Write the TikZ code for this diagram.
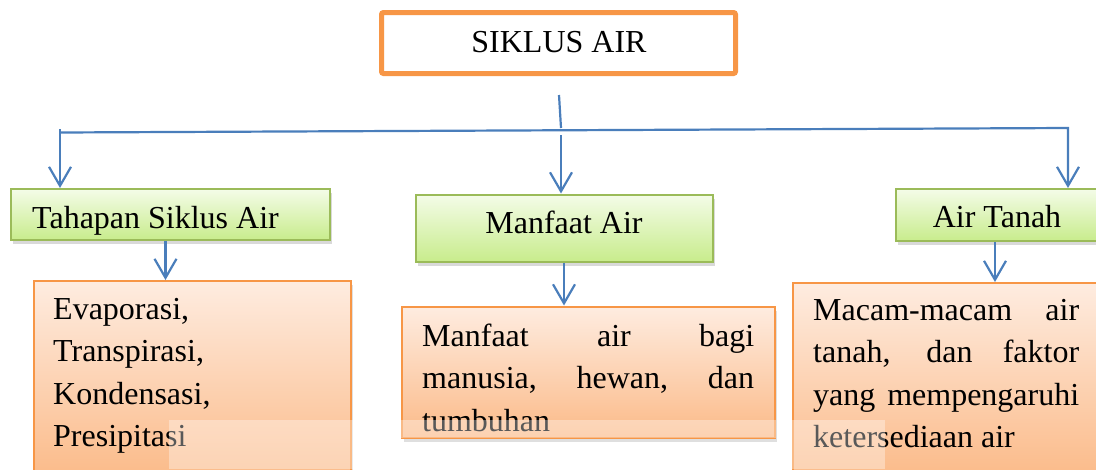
\documentclass[tikz,border=0pt]{standalone}
\usepackage{fontspec}
\setmainfont{Liberation Serif}
\usetikzlibrary{arrows.meta,shadows,calc}
\definecolor{orng}{RGB}{247,150,70}
\definecolor{arrblue}{RGB}{74,126,187}
\definecolor{grnline}{RGB}{155,187,89}
\definecolor{grntop}{RGB}{244,252,232}
\definecolor{grnbot}{RGB}{200,236,140}
\definecolor{ortop}{RGB}{254,236,224}
\definecolor{orbot}{RGB}{251,186,136}
\newcommand\bigfnt{\fontsize{32}{42.6}\selectfont\hyphenpenalty=10000\relax\exhyphenpenalty=10000\relax}
\begin{document}
\begin{tikzpicture}[x=1pt,y=-1pt,
  bigtext/.style={font=\bigfnt, inner sep=0pt},
  topbox/.style={draw=orng, line width=5pt, rounded corners=2pt, fill=white, minimum width=354pt, minimum height=61pt, inner sep=0pt},
  greenbox/.style={draw=grnline, line width=2pt, top color=grntop, bottom color=grnbot, drop shadow={opacity=0.3, shadow xshift=2pt, shadow yshift=-4pt}, inner sep=0pt},
  orbox/.style={draw=orng, line width=2pt, top color=ortop, bottom color=orbot, drop shadow={opacity=0.25, shadow xshift=2pt, shadow yshift=-4pt}, inner sep=0pt},
  conn/.style={draw=arrblue, line width=2.2pt},
  arr/.style={conn, -{Straight Barb[length=19pt,width=22pt]}},
  overlay/.style={fill=white, fill opacity=0.35}
]
\useasboundingbox (0,0) rectangle (1096,469);

% top box
\node[topbox] (top) at (558.5,43) {};
\node[bigtext, anchor=base] (toplbl) at (559,52) {SIKLUS AIR};

% green boxes
\node[greenbox, minimum width=319pt, minimum height=51pt] (g1) at (170.5,214.5) {};
\node[greenbox, minimum width=297pt, minimum height=67pt] (g2) at (564,228) {};
\node[greenbox, minimum width=201pt, minimum height=52pt] (g3) at (996,215) {};
\node[bigtext, anchor=base west] (g1lbl) at (32,228) {Tahapan Siklus Air};
\node[bigtext, anchor=base] (g2lbl) at (564,233) {Manfaat Air};
\node[bigtext, anchor=base] (g3lbl) at (997,227) {Air Tanah};

% orange boxes
\node[orbox, minimum width=317pt, minimum height=199pt] (o1) at (192,380.5) {};
\node[orbox, minimum width=373pt, minimum height=131pt] (o2) at (588,372) {};
\node[orbox, minimum width=309pt, minimum height=197pt] (o3) at (947.5,381.5) {};

\node[bigtext, anchor=base west, text width=280pt, align=left] (o1lbl) at (53,319)
  {Evaporasi,\\Transpirasi,\\Kondensasi,\\Presipitasi};
\node[bigtext, anchor=base west, text width=332pt, align=justify] (o2lbl) at (422,346)
  {Manfaat air bagi\linebreak manusia, hewan, dan\linebreak tumbuhan};
\node[bigtext, anchor=base west, text width=266pt, align=justify] (o3lbl) at (813,320)
  {Macam-macam air\linebreak tanah, dan faktor\linebreak yang mempengaruhi\linebreak ketersediaan air};

% connectors
\coordinate (m1) at (559,95);
\coordinate (m2) at (561,128);
\coordinate (m3) at (561,135);
\coordinate (hl) at (60,132.5);
\coordinate (hlt) at (60,129);
\coordinate (hr) at (1068,128);
\draw[conn] (m1) -- (m2);
\draw[arr] (hl) -- (hr) -- (hr |- g3.north);
\draw[arr] (hlt) -- (hlt |- g1.north);
\draw[arr] (m3) -- (m3 |- g2.north);
\draw[arr] ([xshift=-5pt]g1.south) -- ([xshift=-5pt]g1.south |- o1.north);
\draw[arr] (g2.south) -- (g2.south |- o2.north);
\draw[arr] ([xshift=-1pt]g3.south) -- ([xshift=-1pt]g3.south |- o3.north);

% faint overlay strips
\path[overlay] (169,420) rectangle (353,469);
\path[overlay] (401,420) rectangle (776,438);
\path[overlay] (792,420) rectangle (885,469);
\end{tikzpicture}
\end{document}
